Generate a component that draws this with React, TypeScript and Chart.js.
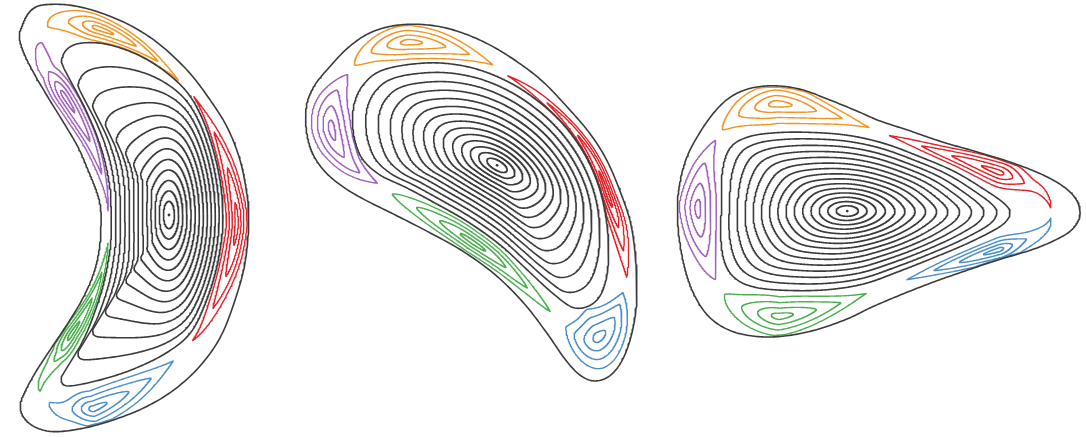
import { useEffect, useRef } from "react";
import { Chart, registerables } from "chart.js";

Chart.register(...registerables);

type Pt = [number, number];
type Island = { color: string; o: Pt; a: Pt; b: Pt; tipA: number; tipB: number; width: number };
type Ellipse = { major: number; minor: number; tilt: number };

const WIDTH = 1086;
const HEIGHT = 437;

const ORANGE = "#f39425";
const RED = "#e0262d";
const BLUE = "#4c8fca";
const GREEN = "#4caf50";
const PURPLE = "#a064bd";
const INK = "#3b3b3b";

// ---------- cross-section 1: crescent ----------
const crescentAxis: Pt = [168, 215];
const crescentBoundary: Pt[] = [
  [18, 36], [21, 24], [27, 12], [36, 5], [50, 3], [70, 4], [95, 10], [127, 23], [157, 42],
  [186, 69], [207, 96], [226, 126], [239, 159], [246, 193], [248, 217], [245, 258], [237, 292],
  [221, 335], [200, 366], [173, 391], [143, 409], [110, 422], [80, 430], [52, 433], [33, 428],
  [22, 418], [19, 406], [24, 392], [35, 372], [50, 349], [66, 325], [81, 300], [92, 275],
  [98, 250], [100, 222], [99, 205], [95, 190], [87, 170], [77, 147], [63, 123], [47, 97],
  [33, 73], [23, 53],
];
const crescentCore: Pt[] = [
  [60, 60], [66, 48], [80, 42], [105, 43], [135, 53], [162, 69], [185, 90], [200, 115],
  [212, 148], [220, 185], [222, 222], [217, 262], [206, 300], [190, 333], [165, 354],
  [130, 371], [95, 382], [66, 387], [60, 380], [64, 370], [73, 358], [87, 330], [100, 293],
  [107, 262], [110, 238], [110, 215], [109, 190], [104, 162], [96, 136], [84, 108], [72, 85],
  [63, 68],
];
const crescentLevels = [0.098, 0.173, 0.248, 0.323, 0.398, 0.474, 0.549, 0.624, 0.699, 0.774, 0.85, 0.925, 1];
const crescentEllipse: Ellipse = { major: 140, minor: 56, tilt: 90 };
const crescentIslands: Island[] = [
  { color: ORANGE, o: [97, 27], a: [47, 25], b: [177, 79], tipA: 0.3, tipB: 1, width: 0.42 },
  { color: RED, o: [236, 225], a: [193, 96], b: [192, 341], tipA: 1, tipB: 1, width: 0.4 },
  { color: BLUE, o: [92, 410], a: [49, 405], b: [172, 362], tipA: 0.3, tipB: 1, width: 0.42 },
  { color: GREEN, o: [70, 335], a: [38, 390], b: [107, 243], tipA: 0.3, tipB: 1, width: 0.42 },
  { color: PURPLE, o: [63, 95], a: [40, 42], b: [107, 211], tipA: 0.3, tipB: 1, width: 0.42 },
];

// ---------- cross-section 2: bean ----------
const beanAxis: Pt = [497, 165];
const beanBoundary: Pt[] = [
  [305, 118], [307, 100], [315, 83], [329, 66], [346, 48], [365, 34], [386, 26], [410, 23],
  [437, 25], [463, 32], [490, 44], [516, 60], [542, 80], [567, 106], [590, 133], [607, 160],
  [621, 193], [631, 224], [636, 260], [637, 297], [633, 330], [624, 358], [611, 376], [595, 382],
  [580, 376], [565, 360], [547, 334], [524, 304], [495, 275], [462, 251], [428, 232], [395, 215],
  [365, 200], [343, 187], [325, 172], [313, 155], [307, 137],
];
const beanCore: Pt[] = [
  [352, 122], [354, 102], [362, 85], [378, 71], [405, 64], [440, 62], [476, 68], [510, 82],
  [540, 102], [566, 127], [587, 158], [601, 193], [608, 232], [608, 268], [602, 293], [590, 306],
  [573, 308], [553, 294], [528, 271], [500, 245], [468, 222], [435, 203], [405, 187], [380, 175],
  [363, 160], [355, 142],
];
const beanLevels = [0.091, 0.161, 0.231, 0.301, 0.371, 0.441, 0.51, 0.58, 0.65, 0.72, 0.79, 0.86, 0.93, 1];
const beanEllipse: Ellipse = { major: 125, minor: 52, tilt: 30 };
const beanIslands: Island[] = [
  { color: ORANGE, o: [408, 41], a: [354, 64], b: [493, 64], tipA: 0.4, tipB: 1, width: 0.42 },
  { color: RED, o: [608, 195], a: [508, 75], b: [627, 277], tipA: 1, tipB: 1, width: 0.4 },
  { color: BLUE, o: [598, 338], a: [566, 328], b: [623, 293], tipA: 0.6, tipB: 1, width: 0.42 },
  { color: GREEN, o: [472, 242], a: [392, 194], b: [550, 312], tipA: 0.5, tipB: 1, width: 0.4 },
  { color: PURPLE, o: [331, 128], a: [347, 74], b: [377, 183], tipA: 0.6, tipB: 1, width: 0.42 },
];

// ---------- cross-section 3: triangle ----------
const triAxis: Pt = [848, 211];
const triBoundary: Pt[] = [
  [679, 190], [686, 160], [699, 134], [716, 110], [733, 95], [753, 87], [777, 85], [803, 89],
  [830, 99], [857, 110], [880, 120], [910, 130], [945, 142], [980, 152], [1015, 163], [1045, 175],
  [1067, 188], [1079, 202], [1081, 217], [1073, 230], [1057, 240], [1033, 250], [1000, 260],
  [967, 271], [933, 283], [900, 296], [872, 308], [847, 320], [815, 331], [783, 337], [755, 337],
  [730, 331], [710, 318], [696, 298], [687, 275], [681, 248], [678, 220],
];
const triCore: Pt[] = [
  [722, 205], [723, 170], [731, 147], [750, 136], [780, 132], [815, 132], [850, 135], [885, 143],
  [920, 156], [955, 171], [985, 189], [1006, 204], [1011, 214], [1002, 226], [972, 242],
  [937, 257], [902, 271], [866, 284], [830, 290], [792, 291], [757, 288], [736, 279], [725, 262],
  [721, 235],
];
const triLevels = [0.085, 0.15, 0.216, 0.281, 0.346, 0.412, 0.477, 0.542, 0.608, 0.673, 0.739, 0.804, 0.869, 0.935, 1];
const triEllipse: Ellipse = { major: 130, minor: 62, tilt: 0 };
const triIslands: Island[] = [
  { color: ORANGE, o: [777, 103], a: [723, 129], b: [870, 127], tipA: 0.4, tipB: 1, width: 0.42 },
  { color: RED, o: [1000, 172], a: [890, 135], b: [1052, 207], tipA: 1, tipB: 1, width: 0.4 },
  { color: BLUE, o: [1000, 250], a: [908, 280], b: [1052, 219], tipA: 1, tipB: 1, width: 0.4 },
  { color: GREEN, o: [780, 317], a: [725, 295], b: [867, 294], tipA: 0.4, tipB: 1, width: 0.42 },
  { color: PURPLE, o: [698, 208], a: [716, 140], b: [716, 280], tipA: 0.6, tipB: 0.6, width: 0.42 },
];

// nested contours drawn inside every island, as a fraction of its separatrix size
const islandLevels = [1, 0.7, 0.42, 0.16];

const TAU = Math.PI * 2;
const RAYS = 1440;
const BAND = 1200;

function smoothClosed(pts: Pt[], seg: number): Pt[] {
  const n = pts.length;
  const out: Pt[] = [];
  for (let i = 0; i < n; i++) {
    const p0 = pts[(i - 1 + n) % n], p1 = pts[i], p2 = pts[(i + 1) % n], p3 = pts[(i + 2) % n];
    for (let j = 0; j < seg; j++) {
      const t = j / seg, t2 = t * t, t3 = t2 * t;
      const f = (a: number, b: number, c: number, d: number) =>
        0.5 * (2 * b + (-a + c) * t + (2 * a - 5 * b + 4 * c - d) * t2 + (-a + 3 * b - 3 * c + d) * t3);
      out.push([f(p0[0], p1[0], p2[0], p3[0]), f(p0[1], p1[1], p2[1], p3[1])]);
    }
  }
  return out;
}

function resampleClosed(pts: Pt[], count: number): Pt[] {
  const n = pts.length;
  const cum = [0];
  for (let i = 0; i < n; i++) {
    const p = pts[i], q = pts[(i + 1) % n];
    cum.push(cum[i] + Math.hypot(q[0] - p[0], q[1] - p[1]));
  }
  const total = cum[n];
  const out: Pt[] = [];
  let j = 0;
  for (let k = 0; k < count; k++) {
    const d = (k / count) * total;
    while (j < n - 1 && cum[j + 1] < d) j++;
    const seg = cum[j + 1] - cum[j] || 1;
    const f = (d - cum[j]) / seg;
    const p = pts[j], q = pts[(j + 1) % n];
    out.push([p[0] + (q[0] - p[0]) * f, p[1] + (q[1] - p[1]) * f]);
  }
  return out;
}

// hit distance from point c along direction d to a closed polyline
function rayHit(poly: Pt[], c: Pt, dx: number, dy: number, farthest: boolean): number {
  const n = poly.length;
  let best = farthest ? 0 : Infinity;
  for (let j = 0; j < n; j++) {
    const p = poly[j], q = poly[(j + 1) % n];
    const ex = q[0] - p[0], ey = q[1] - p[1];
    const den = dx * ey - dy * ex;
    if (Math.abs(den) < 1e-12) continue;
    const wx = p[0] - c[0], wy = p[1] - c[1];
    const t = (wx * ey - wy * ex) / den;
    const s = (wx * dy - wy * dx) / den;
    if (s < 0 || s > 1 || t <= 0.3) continue;
    if (farthest ? t > best : t < best) best = t;
  }
  return isFinite(best) ? best : 0;
}

function radialProfile(poly: Pt[], c: Pt): number[] {
  const out: number[] = new Array(RAYS);
  for (let i = 0; i < RAYS; i++) {
    const th = (i / RAYS) * TAU;
    out[i] = rayHit(poly, c, Math.cos(th), Math.sin(th), true);
  }
  return out;
}

function lineSet(pts: { x: number; y: number }[], color: string, width: number) {
  return {
    data: pts,
    showLine: true,
    borderColor: color,
    backgroundColor: color,
    borderWidth: width,
    pointRadius: 0,
    pointHoverRadius: 0,
    fill: false,
    tension: 0,
  };
}

function sectionDatasets(
  axis: Pt,
  boundary: Pt[],
  core: Pt[],
  levels: number[],
  ell: Ellipse,
  gamma: number,
  islands: Island[],
) {
  const outer = smoothClosed(boundary, 14);
  const inner = smoothClosed(core, 14);
  const Rc = radialProfile(inner, axis);

  // nested surfaces inside the core: radial map around the magnetic axis
  const at = (arr: number[], th: number) => {
    const t = ((((th % TAU) + TAU) % TAU) / TAU) * RAYS;
    const i = Math.floor(t);
    const f = t - i;
    return arr[i % RAYS] * (1 - f) + arr[(i + 1) % RAYS] * f;
  };
  const tilt = (ell.tilt * Math.PI) / 180;
  const ellR = (th: number) => {
    const c = Math.cos(th - tilt) / ell.major, s = Math.sin(th - tilt) / ell.minor;
    return 1 / Math.sqrt(c * c + s * s);
  };
  const surface = (u: number, th: number) => {
    const w = Math.pow(u, gamma);
    const r = u * (w * at(Rc, th) + (1 - w) * ellR(th));
    return { x: axis[0] + r * Math.cos(th), y: axis[1] + r * Math.sin(th) };
  };

  // edge band between the core and the boundary: arc position s along the core, u across (1..2)
  const C = resampleClosed(inner, BAND);
  let area = 0;
  for (let i = 0; i < BAND; i++) {
    const p = C[i], q = C[(i + 1) % BAND];
    area += p[0] * q[1] - q[0] * p[1];
  }
  const sgn = area > 0 ? 1 : -1;
  const N: Pt[] = [];
  const Graw: number[] = [];
  for (let i = 0; i < BAND; i++) {
    const p = C[(i + 4) % BAND], q = C[(i - 4 + BAND) % BAND];
    const tx = p[0] - q[0], ty = p[1] - q[1];
    const len = Math.hypot(tx, ty) || 1;
    const nx = (sgn * ty) / len, ny = (-sgn * tx) / len;
    N.push([nx, ny]);
    Graw.push(rayHit(outer, C[i], nx, ny, false));
  }
  const G = Graw.map((_, i) => {
    let sum = 0;
    for (let k = -6; k <= 6; k++) sum += Graw[(i + k + BAND) % BAND];
    return sum / 13;
  });
  const band = (s: number, u: number) => {
    const f = (((s % 1) + 1) % 1) * BAND;
    const i = Math.floor(f) % BAND, j = (i + 1) % BAND, a = f - Math.floor(f);
    const px = C[i][0] + (C[j][0] - C[i][0]) * a, py = C[i][1] + (C[j][1] - C[i][1]) * a;
    const nx = N[i][0] + (N[j][0] - N[i][0]) * a, ny = N[i][1] + (N[j][1] - N[i][1]) * a;
    const g = G[i] + (G[j] - G[i]) * a;
    return { x: px + (u - 1) * g * nx, y: py + (u - 1) * g * ny };
  };
  const locate = (p: Pt) => {
    let bi = 0, bd = Infinity;
    for (let i = 0; i < BAND; i++) {
      const d = (p[0] - C[i][0]) ** 2 + (p[1] - C[i][1]) ** 2;
      if (d < bd) { bd = d; bi = i; }
    }
    const dot = (p[0] - C[bi][0]) * N[bi][0] + (p[1] - C[bi][1]) * N[bi][1];
    return { s: bi / BAND, u: 1 + dot / Math.max(G[bi], 1) };
  };

  const ds: any[] = [];
  const outerPts = outer.map(([x, y]) => ({ x, y }));
  outerPts.push(outerPts[0]);
  ds.push(lineSet(outerPts, INK, 1.6));

  for (const u of levels) {
    const pts: { x: number; y: number }[] = [];
    for (let i = 0; i <= 720; i++) pts.push(surface(u, (i / 720) * TAU));
    ds.push(lineSet(pts, INK, 1.6));
  }

  const wrapS = (d: number) => ((((d + 0.5) % 1) + 1) % 1) - 0.5;
  for (const isl of islands) {
    const O = locate(isl.o), A = locate(isl.a), B = locate(isl.b);
    const uo = Math.min(Math.max(O.u, 1.2), 1.8);
    const ua = Math.min(Math.max(A.u, 1.05), 1.95);
    const ub = Math.min(Math.max(B.u, 1.05), 1.95);
    const dA = wrapS(A.s - O.s), dB = wrapS(B.s - O.s);
    for (const k of islandLevels) {
      const pts: { x: number; y: number }[] = [];
      const n = 360;
      for (let j = 0; j <= n; j++) {
        const phi = (j / n) * TAU;
        const c = Math.cos(phi), s = Math.sin(phi);
        const m = Math.abs(c);
        const sideA = c < 0;
        const d = sideA ? dA : dB;
        const ue = sideA ? ua : ub;
        const tip = sideA ? isl.tipA : isl.tipB;
        const sPos = O.s + k * d * m;
        const uc = uo + k * (ue - uo) * m;
        let u = uc + k * isl.width * Math.sign(s) * Math.pow(Math.abs(s), 1 + tip * k);
        u = Math.min(Math.max(u, 1.03), 1.97);
        pts.push(band(sPos, u));
      }
      ds.push(lineSet(pts, isl.color, 1.4));
    }
  }

  ds.push({
    data: [{ x: axis[0], y: axis[1] }],
    showLine: false,
    pointRadius: 1.4,
    pointHoverRadius: 1.4,
    pointBorderWidth: 0,
    pointBackgroundColor: INK,
    backgroundColor: INK,
    borderColor: INK,
  });
  return ds;
}

export default function App() {
  const ref = useRef<HTMLCanvasElement>(null);
  useEffect(() => {
    document.body.style.margin = "0";
    const datasets = [
      ...sectionDatasets(crescentAxis, crescentBoundary, crescentCore, crescentLevels, crescentEllipse, 2.2, crescentIslands),
      ...sectionDatasets(beanAxis, beanBoundary, beanCore, beanLevels, beanEllipse, 1.3, beanIslands),
      ...sectionDatasets(triAxis, triBoundary, triCore, triLevels, triEllipse, 1.3, triIslands),
    ];
    const chart = new Chart(ref.current!, {
      type: "scatter",
      data: { datasets },
      options: {
        animation: false,
        responsive: false,
        maintainAspectRatio: false,
        events: [],
        layout: { padding: 0 },
        plugins: { legend: { display: false }, tooltip: { enabled: false } },
        elements: { line: { borderCapStyle: "round", borderJoinStyle: "round" } },
        scales: {
          x: { type: "linear", min: 0, max: WIDTH, display: false },
          y: { type: "linear", min: 0, max: HEIGHT, reverse: true, display: false },
        },
      },
    } as any);
    return () => chart.destroy();
  }, []);
  return (
    <div style={{ width: WIDTH, height: HEIGHT, background: "#fff" }}>
      <canvas ref={ref} width={WIDTH} height={HEIGHT} style={{ display: "block", width: WIDTH, height: HEIGHT }} />
    </div>
  );
}
